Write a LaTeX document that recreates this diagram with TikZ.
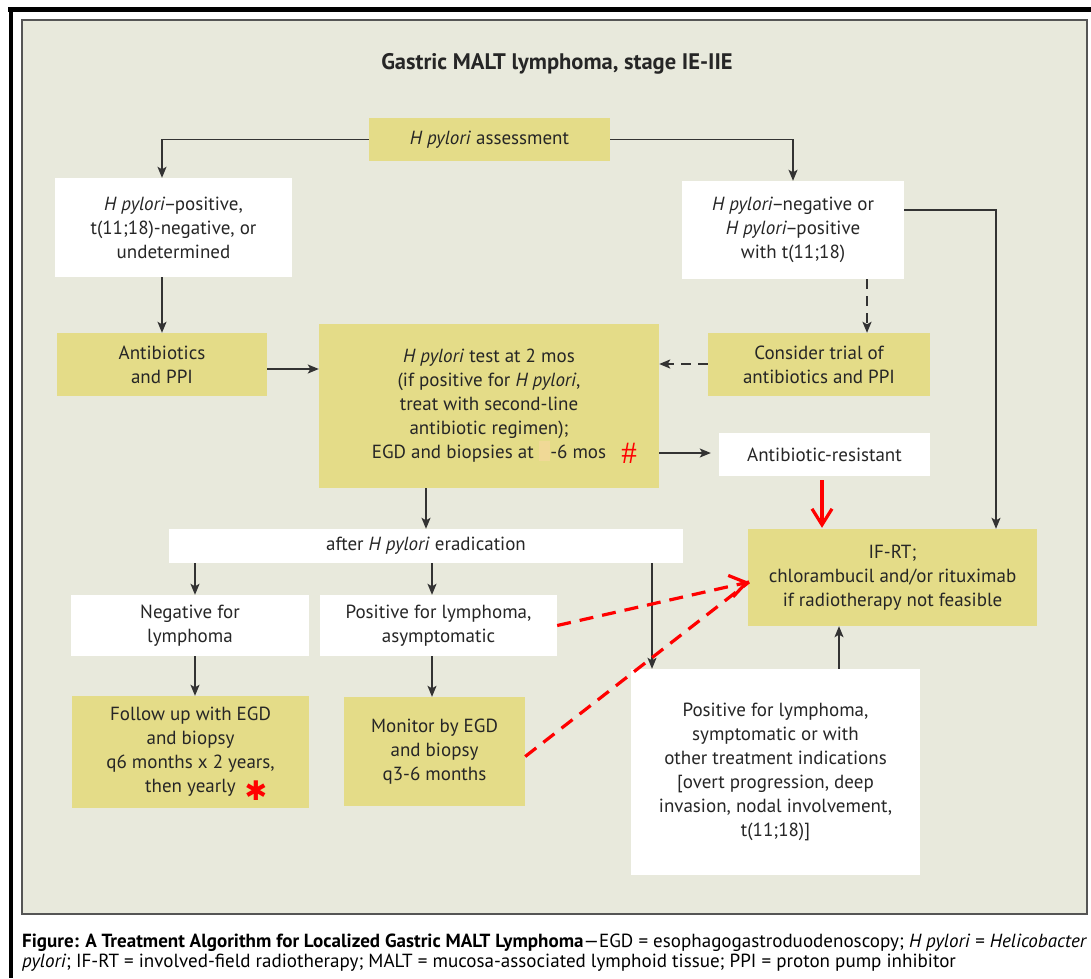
\documentclass[tikz,border=0pt]{standalone}
\usepackage{fontspec}
\setmainfont{PT Sans}
\newfontfamily\serifff{Liberation Serif}
\newfontfamily\djv{DejaVu Sans}
\usetikzlibrary{arrows.meta,calc}
\definecolor{panel}{HTML}{E8E9DC}
\definecolor{ybox}{HTML}{E4DC88}
\definecolor{ink}{HTML}{262626}
\definecolor{linec}{HTML}{333333}
\definecolor{blob}{HTML}{F0D996}
\definecolor{redc}{HTML}{FF0000}
\definecolor{pborder}{HTML}{555555}
\tikzset{
  base/.style={inner sep=0pt, align=center, text=ink, font=\fontsize{19}{24}\selectfont},
  wbox/.style={base, fill=white},
  ybx/.style={base, fill=ybox},
  arr/.style={draw=linec, line width=1.4pt, -{Stealth[length=11pt,width=9pt,inset=2.5pt]}},
  darr/.style={arr, line width=2pt, dash pattern=on 10pt off 7pt},
  rarr/.style={draw=redc, line width=3.2pt, -{Straight Barb[length=16pt,width=20pt]}},
  rdarr/.style={draw=redc, line width=3.2pt, dash pattern=on 14pt off 9pt},
}
\newcommand\ndsh{\kern-1.5pt--\kern-1.5pt}
\newcommand\fcbox[7]{%
  \node[#6, minimum width={(#4-#2)*1pt}, minimum height={(#5-#3)*1pt}] (#1) at ({(#2+#4)/2},{(#3+#5)/2}) {#7};}
\newsavebox\capA
\newsavebox\capB
\begin{document}
\sbox\capA{\fontsize{19}{20}\selectfont\textbf{Figure: A Treatment Algorithm for Localized Gastric MALT Lymphoma}—EGD = esophagogastroduodenoscopy; \textit{H pylori} = \textit{Helicobacter}}%
\sbox\capB{\fontsize{19}{20}\selectfont\textit{pylori}; IF-RT = involved-field radiotherapy; MALT = mucosa-associated lymphoid tissue; PPI = proton pump inhibitor}%
\pgfmathsetmacro\capsc{1065/\the\wd\capA}%
\begin{tikzpicture}[x=1pt,y=-1pt]
\useasboundingbox (0,0) rectangle (1091,978);
% frame
\fill[white] (0,0) rectangle (1091,978);
\fill[black] (8,7) rectangle (1091,12);
\fill[black] (9,7) rectangle (13,978);
\draw[pborder, line width=1.2pt, fill=panel] (22,20) rectangle (1087,914);
% title
\node[text=ink, font=\bfseries\fontsize{22.5}{26}\selectfont] (title) at (557,64) {Gastric MALT lymphoma, stage IE-IIE};
% boxes
\fcbox{hpa}{369}{118}{610}{161}{ybx}{\textit{H pylori} assessment}
\fcbox{lpos}{55}{178}{292}{277}{wbox}{\textit{H pylori}\ndsh positive,\\ t(11;18)-negative, or\\ undetermined}
\fcbox{rneg}{682}{181}{904}{279}{wbox}{\textit{H pylori}\ndsh negative or\\ \textit{H pylori}\ndsh positive\\ with t(11;18)}
\fcbox{abx}{57}{333}{267}{396}{ybx}{Antibiotics\\ and PPI}
\fcbox{ctr}{319}{324}{659}{488}{ybx}{\textit{H pylori} test at 2 mos\\ (if positive for \textit{H pylori},\\ treat with second-line\\ antibiotic regimen);\\ EGD and biopsies at {\color{blob}\rule[-0.25ex]{0.6em}{2.1ex}}-6 mos}
\fcbox{cons}{708}{333}{930}{396}{ybx}{Consider trial of\\ antibiotics and PPI}
\fcbox{ares}{719}{433}{930}{476}{wbox}{Antibiotic-resistant}
\fcbox{ifrt}{748}{529}{1037}{626}{ybx}{IF-RT;\\ chlorambucil and/or rituximab\\ if radiotherapy not feasible}
\fcbox{after}{169}{529}{683}{563}{wbox}{after \textit{H pylori} eradication}
\fcbox{neg}{71}{595}{309}{656}{wbox}{Negative for\\ lymphoma}
\fcbox{pos}{320}{595}{557}{656}{wbox}{Positive for lymphoma,\\ asymptomatic}
\fcbox{fol}{72}{696}{309}{808}{ybx}{Follow up with EGD\\ and biopsy\\ q6 months x 2 years,\\ then yearly}
\fcbox{mon}{344}{697}{525}{806}{ybx}{Monitor by EGD\\ and biopsy\\ q3-6 months}
\fcbox{sym}{631}{669}{920}{875}{wbox}{Positive for lymphoma,\\ symptomatic or with\\ other treatment indications\\ {[}overt progression, deep\\ invasion, nodal involvement,\\ t(11;18){]}}
% marks
\node[text=redc, inner sep=0pt, font=\serifff\fontsize{31}{31}\selectfont] (hash) at (629,453) {\#};
\node[text=redc, inner sep=0pt, font=\djv\fontsize{27}{27}\selectfont] (star) at (256,791) {✱};
% coordinates
\coordinate (c1) at (996,210);
\coordinate (c2) at (867,0);
\coordinate (c3) at (0,364);
\coordinate (c4) at (0,369);
\coordinate (c5) at (0,453);
\coordinate (c6) at (822,0);
\coordinate (c7) at (195,0);
\coordinate (c8) at (432,0);
\coordinate (c9) at (652,0);
\coordinate (c10) at (839,0);
\coordinate (tip) at (749,582);
% connectors
\draw[arr] (hpa.west) -| (abx.north |- lpos.north);
\draw[arr] (abx.north |- lpos.south) -- (abx.north);
\draw[arr] (hpa.east) -| (rneg.north);
\draw[arr] (c1 -| rneg.east) -- (c1) -- (c1 |- ifrt.north);
\draw[darr] (c2 |- rneg.south) -- (c2 |- cons.north);
\draw[darr] (c3 -| cons.west) -- (c3 -| ctr.east);
\draw[arr] (c4 -| abx.east) -- (c4 -| ctr.west);
\draw[arr, shorten >=8pt] (c5 -| ctr.east) -- (c5 -| ares.west);
\draw[rarr, shorten >=1pt] ([yshift=-4pt]c6 |- ares.south) -- (c6 |- ifrt.north);
\draw[arr] (ctr.south -| after.north) -- (after.north);
\draw[arr] (c7 |- after.south) -- (c7 |- neg.north);
\draw[arr] (c7 |- neg.south) -- (c7 |- fol.north);
\draw[arr] (c8 |- after.south) -- (c8 |- pos.north);
\draw[arr] (c8 |- pos.south) -- (c8 |- mon.north);
\draw[arr] (c9 |- after.south) -- (c9 |- sym.north);
\draw[arr] (c10 |- sym.north) -- (c10 |- ifrt.south);
\draw[rdarr] ([yshift=-5pt]mon.east) -- (tip);
\draw[rdarr] (pos.east) -- (tip);
\draw[draw=redc, line width=3.2pt, -{Straight Barb[length=16pt,width=22pt]}] ($(tip)!6pt!(pos.east)$) -- (tip);
% caption
\node[anchor=base west, inner sep=0pt, text=ink] (cap1) at (22,947) {\scalebox{\capsc}[1]{\usebox\capA}};
\node[anchor=base west, inner sep=0pt, text=ink] (cap2) at (22,967) {\scalebox{\capsc}[1]{\usebox\capB}};
\end{tikzpicture}
\end{document}
